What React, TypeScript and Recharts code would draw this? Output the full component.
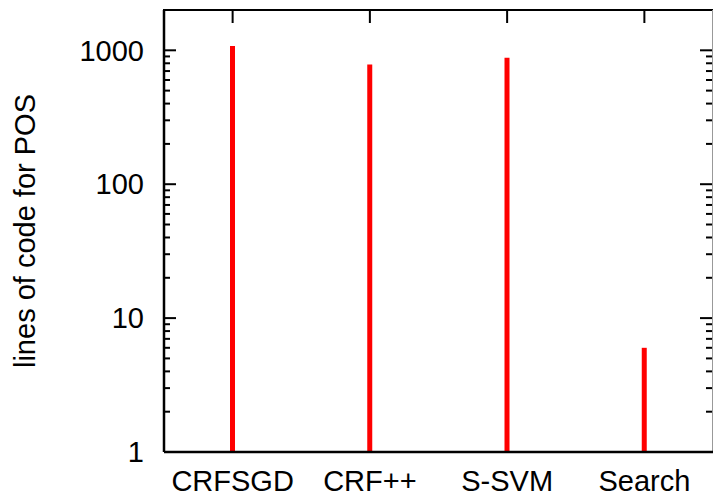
import React from "react";
import { ComposedChart, Bar, XAxis, YAxis, Customized } from "recharts";

const categories = ["CRFSGD", "CRF++", "S-SVM", "Search"];
const linesOfCode = [1075, 785, 880, 6];
const majorTicks = [1, 10, 100, 1000];
const minorTicks = [2, 3, 4, 5, 6, 7, 8, 9, 20, 30, 40, 50, 60, 70, 80, 90, 200, 300, 400, 500, 600, 700, 800, 900];
const yLabel = "lines of code for POS";

const data = categories.map((name, i) => ({ name, loc: linesOfCode[i] }));
const allYTicks = [...majorTicks, ...minorTicks].sort((a, b) => a - b);

const W = 713;
const H = 496;
const PLOT_LEFT = 164;
const PLOT_TOP = 10;
const PLOT_RIGHT = 713;
const PLOT_BOTTOM = 452;
const FONT = "'Liberation Sans', Arial, Helvetica, sans-serif";
const FS = 29;
const Y_MARGIN = 20;

const YTick = (props: any) => {
  const { x, y, payload } = props;
  const v = payload.value;
  const major = majorTicks.includes(v);
  const len = major ? 12 : 6;
  const ax = x + Y_MARGIN;
  return (
    <g>
      <line x1={ax} x2={ax + len} y1={y} y2={y} stroke="#000" strokeWidth={2} />
      <line x1={PLOT_RIGHT - 1 - len} x2={PLOT_RIGHT - 1} y1={y} y2={y} stroke="#000" strokeWidth={2} />
      {major && (
        <text x={x} y={y} dy="0.355em" textAnchor="end" fontFamily={FONT} fontSize={FS} fill="#000">
          {v}
        </text>
      )}
    </g>
  );
};

const XTick = (props: any) => {
  const { x, y, payload } = props;
  return (
    <g>
      <line x1={x} x2={x} y1={PLOT_TOP} y2={PLOT_TOP + 13} stroke="#000" strokeWidth={2} />
      <text x={x} y={y + 39} textAnchor="middle" fontFamily={FONT} fontSize={FS} fill="#000">
        {payload.value}
      </text>
    </g>
  );
};

const Frame = () => (
  <g>
    <line x1={PLOT_LEFT - 1} x2={PLOT_RIGHT} y1={PLOT_TOP} y2={PLOT_TOP} stroke="#000" strokeWidth={2} />
    <line x1={PLOT_RIGHT - 0.5} x2={PLOT_RIGHT - 0.5} y1={PLOT_TOP} y2={PLOT_BOTTOM} stroke="#999" strokeWidth={1} />
  </g>
);

export default function App() {
  return (
    <div style={{ position: "absolute", left: 0, top: 0, background: "#fff" }}>
      <ComposedChart
        width={W}
        height={H}
        data={data}
        margin={{ top: PLOT_TOP, right: W - PLOT_RIGHT, left: 0, bottom: 0 }}
      >
        <XAxis
          dataKey="name"
          type="category"
          height={H - PLOT_BOTTOM}
          tickSize={0}
          tickMargin={0}
          tickLine={false}
          interval={0}
          axisLine={{ stroke: "#000", strokeWidth: 2.5 }}
          tick={<XTick />}
        />
        <YAxis
          type="number"
          scale="log"
          domain={[1, 2000]}
          allowDataOverflow
          ticks={allYTicks}
          interval={0}
          width={PLOT_LEFT}
          tickSize={0}
          tickMargin={Y_MARGIN}
          tickLine={false}
          axisLine={{ stroke: "#000", strokeWidth: 2.5 }}
          tick={<YTick />}
          label={{
            value: yLabel,
            angle: -90,
            position: "insideLeft",
            offset: 25,
            style: { textAnchor: "middle", fontFamily: FONT, fontSize: FS, fill: "#000" },
          }}
        />
        <Bar dataKey="loc" barSize={5} fill="#ff0000" isAnimationActive={false} />
        <Customized component={<Frame />} />
      </ComposedChart>
    </div>
  );
}
